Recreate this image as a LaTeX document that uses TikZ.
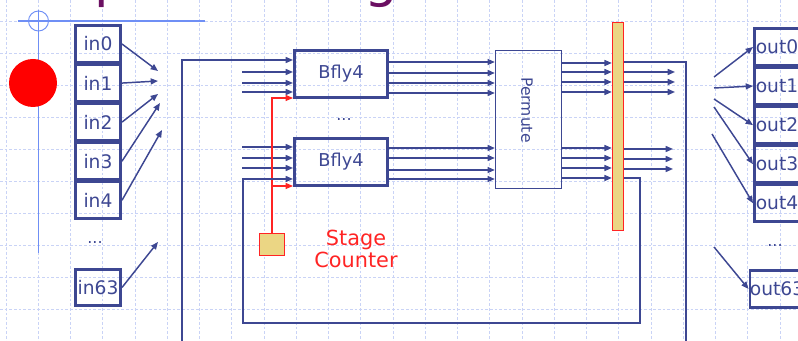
\documentclass[tikz,border=0pt]{standalone}
\usepackage{fontspec}
\setmainfont{DejaVu Sans}
\usetikzlibrary{arrows.meta, positioning}
\definecolor{slideBlue}{HTML}{3D4792}
\definecolor{gridBlue}{HTML}{C9D3F6}
\definecolor{bulletBlue}{HTML}{6F8FF5}
\definecolor{latchYellow}{HTML}{EBD684}
\definecolor{ctrRed}{HTML}{FF2424}
\definecolor{titlePurple}{HTML}{6B0F62}
\tikzset{
  arrowB/.style={-{Triangle[length=5.5pt,width=4.5pt]}, draw=slideBlue, line width=1.1pt},
  lineB/.style={draw=slideBlue, line width=1.1pt},
  arrowR/.style={-{Triangle[length=5.5pt,width=4.5pt]}, draw=ctrRed, line width=0.8pt},
  gridLine/.style={draw=gridBlue, line width=0.7pt, dash pattern=on 2pt off 1.5pt},
  ioBox/.style={rectangle, draw=slideBlue, line width=2pt, text=slideBlue,
                minimum width=34pt, minimum height=27.3pt, inner sep=0pt,
                font=\fontsize{14}{16}\selectfont},
  bflyBox/.style={rectangle, draw=slideBlue, line width=2pt, text=slideBlue,
                  minimum width=70pt, minimum height=35.5pt, inner sep=0pt,
                  font=\fontsize{13.3}{15}\selectfont},
  permBox/.style={rectangle, draw=slideBlue, line width=1pt,
                  minimum width=49.5pt, minimum height=103.5pt},
  latchBox/.style={rectangle, draw=ctrRed, fill=latchYellow, line width=0.8pt,
                   inner sep=0pt},
  dotsLabel/.style={text=slideBlue, font=\fontsize{12}{14}\selectfont},
}
\begin{document}
\begin{tikzpicture}[x=0.75pt, y=-0.75pt]
  \useasboundingbox (0,0) rectangle (798,341);
  % slide grid
  \foreach \k in {0,...,24}
    \draw[gridLine] (6+32.25*\k,0) -- (6+32.25*\k,341);
  \foreach \k in {0,...,10}
    \draw[gridLine] (0,21.5+32*\k) -- (798,21.5+32*\k);
  % title remains and bullet marks
  \node[anchor=base west, inner sep=0pt, text=titlePurple, font=\fontsize{40}{44}\selectfont] (tp) at (94,-3) {p};
  \node[anchor=base west, inner sep=0pt, text=titlePurple, font=\fontsize{40}{44}\selectfont] (tg) at (364,-3) {g};
  \draw[bulletBlue, line width=0.8pt] (18,21) -- (205,21);
  \draw[bulletBlue, line width=0.8pt] (38.5,10) -- (38.5,253);
  \draw[bulletBlue, line width=0.7pt] (38.5,21) circle[radius=7.5pt];
  \fill[red] (33,83) circle[radius=18pt];

  % inputs
  \node[ioBox] (in0) at (98,44) {in0};
  \node[ioBox, below=0pt of in0] (in1) {in1};
  \node[ioBox, below=0pt of in1] (in2) {in2};
  \node[ioBox, below=0pt of in2] (in3) {in3};
  \node[ioBox, below=0pt of in3] (in4) {in4};
  \node[dotsLabel] (indots) at (95,243) {...};
  \node[ioBox] (in63) at (98,287.5) {in63};
  \coordinate (ia0) at (158,71);
  \coordinate (ia1) at (158,81);
  \coordinate (ia2) at (158,94);
  \coordinate (ia3) at (160,103);
  \coordinate (ia4) at (162,130);
  \coordinate (ia63) at (158,242);
  \foreach \i in {0,1,2,3,4,63}
    \draw[arrowB] (in\i.east) -- (ia\i);

  % butterflies, permute, latch
  \node[bflyBox] (bf1) at (341,74) {Bfly4};
  \node[bflyBox] (bf2) at (341,162) {Bfly4};
  \node[dotsLabel] (bfdots) at (344,120) {...};
  \node[permBox] (perm) at (528.5,119.5) {};
  \node[rotate=-90, text=slideBlue, font=\fontsize{11.7}{13}\selectfont] (permtxt) at (527,110) {Permute};
  \node[latchBox, minimum width=8.5pt, minimum height=156pt] (latch) at (618,126.5) {};
  \node[latchBox, minimum width=19pt, minimum height=17pt] (ctr) at (272,244.5) {};
  \node[align=center, text=ctrRed, font=\fontsize{15.6}{16.5}\selectfont] (ctrtxt) at (356,249) {Stage\\Counter};

  % butterfly inputs
  \foreach \y [count=\k] in {72,83,92} {
    \coordinate (fa\k) at (242,\y);
    \draw[arrowB] (fa\k) -- (bf1.west |- fa\k);
  }
  \foreach \y [count=\k] in {147,158,168} {
    \coordinate (fb\k) at (242,\y);
    \draw[arrowB] (fb\k) -- (bf2.west |- fb\k);
  }
  \draw[arrowR] (ctr.north) |- (bf1.west |- 0,98);
  \draw[arrowR] (ctr.north) |- (bf2.west |- 0,186);

  % butterflies to permute to latch
  \foreach \y in {62,73,83,93}
    \draw[arrowB] (bf1.east |- 0,\y) -- (perm.west |- 0,\y);
  \foreach \y in {148,158,170,179}
    \draw[arrowB] (bf2.east |- 0,\y) -- (perm.west |- 0,\y);
  \foreach \y in {63,72,82,92,148,158,168,178}
    \draw[arrowB] (perm.east |- 0,\y) -- (latch.west |- 0,\y);

  % latch outputs
  \foreach \y [count=\k] in {72,82,92} {
    \coordinate (la\k) at (675,\y);
    \draw[arrowB] (latch.east |- la\k) -- (la\k);
  }
  \foreach \y [count=\k] in {149,159,169} {
    \coordinate (lb\k) at (673,\y);
    \draw[arrowB] (latch.east |- lb\k) -- (lb\k);
  }

  % feedback loops
  \coordinate (obl) at (182,341);
  \coordinate (obr) at (686,341);
  \coordinate (ibl) at (243,323);
  \coordinate (ibr) at (640,323);
  \draw[lineB] (latch.east |- 0,62) -| (obr);
  \draw[arrowB] (obl) |- (bf1.west |- 0,60);
  \draw[arrowB] (latch.east |- 0,178) -| (ibr) -- (ibl) |- (bf2.west |- 0,179);

  % outputs
  \node[ioBox] (out0) at (777,47) {out0};
  \node[ioBox, below=0pt of out0] (out1) {out1};
  \node[ioBox, below=0pt of out1] (out2) {out2};
  \node[ioBox, below=0pt of out2] (out3) {out3};
  \node[ioBox, below=0pt of out3] (out4) {out4};
  \node[dotsLabel] (outdots) at (775,246) {...};
  \node[ioBox] (out63) at (777,289) {out63};
  \coordinate (oa0) at (714,77);
  \coordinate (oa1) at (714,88);
  \coordinate (oa2) at (714,99);
  \coordinate (oa3) at (714,107);
  \coordinate (oa4) at (712,134);
  \coordinate (oa63) at (714,247);
  \foreach \i in {0,1,2,3,4,63}
    \draw[arrowB] (oa\i) -- (out\i.west);
\end{tikzpicture}
\end{document}
